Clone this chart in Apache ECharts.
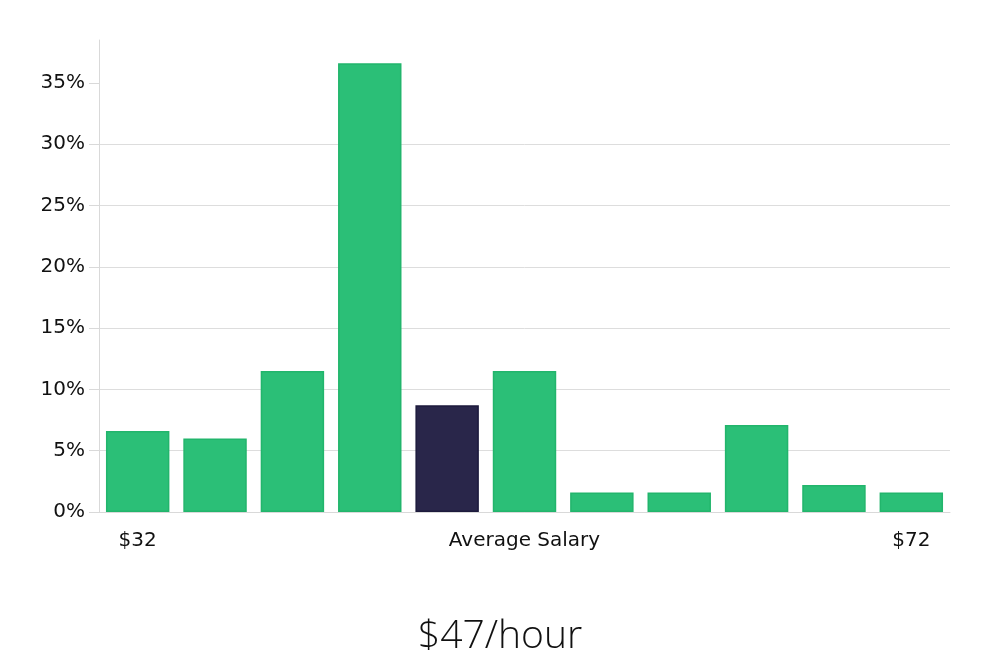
<!DOCTYPE html>
<html>
<head>
<meta charset="utf-8">
<script src="https://cdn.jsdelivr.net/npm/echarts@6/dist/echarts.min.js"></script>
<style>html,body{margin:0;padding:0;background:#fff}#c{width:1000px;height:660px}</style>
</head>
<body>
<div id="c"></div>
<script>
const categories = ['$32','$36','$40','$44','$48','$52','$56','$60','$64','$68','$72'];
const tickLabels = ['$32','','','','','Average Salary','','','','','$72'];
const shares = [6.6, 6.0, 11.5, 36.6, 8.7, 11.5, 1.6, 1.6, 7.1, 2.2, 1.6];
const highlightIndex = 4;
const yTicks = [0, 5, 10, 15, 20, 25, 30, 35];
const titleText = '$47/hour';

const chart = echarts.init(document.getElementById('c'), null, {renderer: 'canvas'});
chart.setOption({
  animation: false,
  backgroundColor: '#ffffff',
  title: {
    text: titleText,
    left: 'center',
    top: 612,
    textStyle: {fontFamily: 'Open Sans', fontWeight: 300, fontSize: 39, color: '#111'}
  },
  grid: {left: 99, right: 50, top: 40, bottom: 148, containLabel: false},
  xAxis: {
    type: 'category',
    data: categories,
    axisLine: {show: true, lineStyle: {color: '#d9d9d9', width: 1}},
    axisTick: {show: false},
    axisLabel: {
      interval: 0,
      margin: 19,
      fontFamily: 'DejaVu Sans',
      fontSize: 20,
      color: '#111',
      formatter: (v, i) => tickLabels[i]
    }
  },
  yAxis: {
    type: 'value',
    min: 0,
    max: 38.5,
    interval: 5,
    axisLine: {show: true, lineStyle: {color: '#d9d9d9', width: 1}},
    axisTick: {show: true, length: 10, lineStyle: {color: '#d9d9d9'}, customValues: yTicks},
    axisLabel: {
      customValues: yTicks,
      margin: 14,
      fontFamily: 'DejaVu Sans',
      fontSize: 20,
      color: '#111',
      formatter: v => v + '%'
    },
    splitLine: {show: true, showMaxLine: false, lineStyle: {color: '#dddddd', width: 1}}
  },
  series: [{
    type: 'bar',
    data: shares.map((v, i) => i === highlightIndex
      ? {value: v, itemStyle: {color: '#29264a', borderColor: '#1c1a3c', borderWidth: 1.5}}
      : v),
    barCategoryGap: '18%',
    itemStyle: {color: '#2bbf77', borderColor: '#22b56c', borderWidth: 1.5}
  }]
});
</script>
</body>
</html>
